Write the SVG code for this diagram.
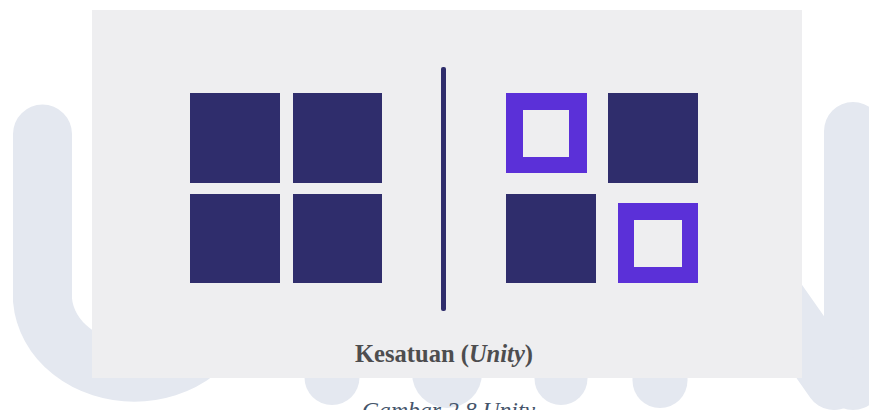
<svg xmlns="http://www.w3.org/2000/svg" width="869" height="410" viewBox="0 0 869 410">
  <style>
    .wm { fill: none; stroke: #e4e8f0; stroke-linecap: round; }
    .navy { fill: #2f2d6c; }
    .purple { fill: #5b30d8; fill-rule: evenodd; }
    .label { font-family: "Liberation Serif", "Times New Roman", serif; font-weight: bold; font-size: 25px; fill: #4d4d4f; }
    .caption { font-family: "Liberation Serif", "Times New Roman", serif; font-style: italic; font-size: 23.7px; fill: #44546a; }
  </style>
  <rect x="0" y="0" width="869" height="410" fill="#ffffff"/>
  <g id="watermark">
    <path class="wm" stroke-width="59" d="M42.5,134 V300 A92,78 0 0 0 226,300 V134"/>
    <line class="wm" stroke-width="55" x1="332" y1="300" x2="332" y2="377.5"/>
    <line class="wm" stroke-width="70" x1="447" y1="300" x2="447" y2="373"/>
    <line class="wm" stroke-width="53" x1="561" y1="300" x2="561" y2="378.5"/>
    <line class="wm" stroke-width="55" x1="660" y1="300" x2="660" y2="380.5"/>
    <line class="wm" stroke-width="58" x1="853" y1="131" x2="853" y2="381"/>
    <line class="wm" stroke-width="58" x1="679" y1="160" x2="834" y2="381"/>
  </g>
  <rect id="panel" x="92" y="10" width="710" height="368" fill="#eeeef0"/>
  <g id="left-grid">
    <rect id="l1" class="navy" x="190" y="93" width="90" height="90"/>
    <rect id="l2" class="navy" x="293" y="93" width="89" height="90"/>
    <rect id="l3" class="navy" x="190" y="194" width="90" height="89"/>
    <rect id="l4" class="navy" x="293" y="194" width="89" height="89"/>
  </g>
  <g id="connectors">
    <rect id="divider" class="navy" x="441" y="67" width="5" height="244" rx="2"/>
  </g>
  <g id="right-grid">
    <path id="r1" class="purple" d="M506,93 H587 V173 H506 Z M523,110 V157 H569 V110 Z"/>
    <rect id="r2" class="navy" x="608" y="93" width="90" height="90"/>
    <rect id="r3" class="navy" x="506" y="194" width="90" height="89"/>
    <path id="r4" class="purple" d="M618,203 H698 V283 H618 Z M634,220 V267 H682 V220 Z"/>
  </g>
  <g id="label">
    <text class="label" x="355" y="362" textLength="178" lengthAdjust="spacingAndGlyphs">Kesatuan (<tspan font-style="italic">Unity</tspan>)</text>
  </g>
  <g id="caption">
    <text class="caption" x="362" y="418">Gambar 2.8 Unity</text>
  </g>
</svg>
